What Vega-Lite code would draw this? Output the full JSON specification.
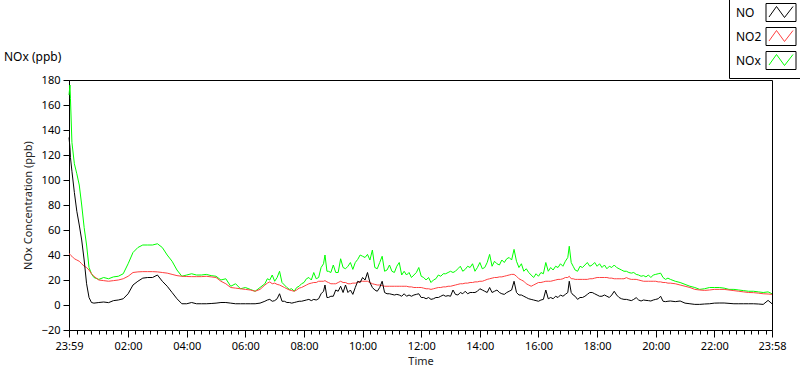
{
  "$schema": "https://vega.github.io/schema/vega-lite/v6.json",
  "autosize": {"type": "none"},
  "width": 703,
  "height": 250,
  "padding": {"left": 69, "top": 80, "right": 28, "bottom": 39},
  "background": "#ffffff",
  "title": {"text": "NOx (ppb)", "anchor": "start", "frame": "group", "dx": -65, "offset": -68, "font": "Noto Sans", "fontSize": 12, "fontWeight": "normal", "color": "#000000"},
  "data": {"values": [
    {"min": -1, "NO": 134, "NO2": 41, "NOx": 168},
    {"min": 1, "NO": 126, "NO2": 40.5, "NOx": 176},
    {"min": 2, "NO": 118, "NO2": 40, "NOx": 165},
    {"min": 5, "NO": 107, "NO2": 39, "NOx": 130},
    {"min": 10, "NO": 90, "NO2": 37, "NOx": 113},
    {"min": 15, "NO": 75, "NO2": 36, "NOx": 105},
    {"min": 20, "NO": 64, "NO2": 35, "NOx": 96},
    {"min": 25, "NO": 52, "NO2": 33, "NOx": 80},
    {"min": 30, "NO": 36, "NO2": 31, "NOx": 62},
    {"min": 35, "NO": 17, "NO2": 30, "NOx": 48},
    {"min": 40, "NO": 6, "NO2": 28, "NOx": 30},
    {"min": 45, "NO": 2, "NO2": 25, "NOx": 25},
    {"min": 50, "NO": 1.5, "NO2": 23, "NOx": 22},
    {"min": 60, "NO": 2, "NO2": 20, "NOx": 20.5},
    {"min": 70, "NO": 2.4, "NO2": 19.5, "NOx": 22},
    {"min": 80, "NO": 1.9, "NO2": 19, "NOx": 21},
    {"min": 90, "NO": 3.5, "NO2": 19.5, "NOx": 22.5},
    {"min": 100, "NO": 4, "NO2": 20, "NOx": 23},
    {"min": 110, "NO": 5, "NO2": 21, "NOx": 25},
    {"min": 120, "NO": 9, "NO2": 23, "NOx": 33},
    {"min": 130, "NO": 16, "NO2": 26, "NOx": 42},
    {"min": 140, "NO": 19, "NO2": 26.5, "NOx": 46},
    {"min": 150, "NO": 21.5, "NO2": 26.7, "NOx": 48},
    {"min": 160, "NO": 22, "NO2": 26.7, "NOx": 48},
    {"min": 170, "NO": 22, "NO2": 26.7, "NOx": 48},
    {"min": 180, "NO": 24, "NO2": 26.5, "NOx": 49},
    {"min": 190, "NO": 19, "NO2": 26, "NOx": 46},
    {"min": 200, "NO": 15, "NO2": 25.5, "NOx": 40},
    {"min": 210, "NO": 10, "NO2": 24.5, "NOx": 35},
    {"min": 220, "NO": 5, "NO2": 23.5, "NOx": 28},
    {"min": 230, "NO": 1, "NO2": 23, "NOx": 23},
    {"min": 240, "NO": 1, "NO2": 22.8, "NOx": 24},
    {"min": 250, "NO": 2, "NO2": 22.7, "NOx": 25},
    {"min": 260, "NO": 1, "NO2": 22.7, "NOx": 24},
    {"min": 270, "NO": 1, "NO2": 22.7, "NOx": 24},
    {"min": 280, "NO": 1, "NO2": 23, "NOx": 24.5},
    {"min": 290, "NO": 1.2, "NO2": 22.5, "NOx": 23.5},
    {"min": 300, "NO": 1.5, "NO2": 22, "NOx": 23},
    {"min": 310, "NO": 2, "NO2": 19, "NOx": 20},
    {"min": 320, "NO": 2, "NO2": 17, "NOx": 21},
    {"min": 330, "NO": 1.5, "NO2": 14, "NOx": 15},
    {"min": 340, "NO": 1, "NO2": 13.5, "NOx": 17},
    {"min": 350, "NO": 1, "NO2": 13, "NOx": 13},
    {"min": 360, "NO": 1, "NO2": 12.5, "NOx": 14},
    {"min": 370, "NO": 1, "NO2": 12, "NOx": 12.5},
    {"min": 380, "NO": 1, "NO2": 11, "NOx": 11},
    {"min": 390, "NO": 1.5, "NO2": 12.5, "NOx": 14},
    {"min": 400, "NO": 3, "NO2": 16, "NOx": 17},
    {"min": 405, "NO": 4, "NO2": 17.5, "NOx": 21},
    {"min": 410, "NO": 4.5, "NO2": 18.5, "NOx": 20},
    {"min": 415, "NO": 3, "NO2": 17, "NOx": 24},
    {"min": 420, "NO": 3.5, "NO2": 17.5, "NOx": 19},
    {"min": 425, "NO": 5, "NO2": 16.5, "NOx": 22},
    {"min": 430, "NO": 9, "NO2": 16, "NOx": 27},
    {"min": 435, "NO": 3, "NO2": 15, "NOx": 18},
    {"min": 440, "NO": 3, "NO2": 14, "NOx": 16},
    {"min": 445, "NO": 2, "NO2": 13, "NOx": 14},
    {"min": 450, "NO": 2, "NO2": 12, "NOx": 12.5},
    {"min": 455, "NO": 1.5, "NO2": 11.5, "NOx": 13},
    {"min": 460, "NO": 2, "NO2": 11, "NOx": 11},
    {"min": 465, "NO": 2.5, "NO2": 12, "NOx": 14},
    {"min": 470, "NO": 3, "NO2": 13.5, "NOx": 15},
    {"min": 475, "NO": 3, "NO2": 14, "NOx": 17},
    {"min": 480, "NO": 3.5, "NO2": 15, "NOx": 18},
    {"min": 485, "NO": 4, "NO2": 16, "NOx": 21},
    {"min": 490, "NO": 4.5, "NO2": 17, "NOx": 22},
    {"min": 495, "NO": 3.5, "NO2": 17.5, "NOx": 20},
    {"min": 500, "NO": 4.5, "NO2": 18, "NOx": 26},
    {"min": 505, "NO": 4, "NO2": 18, "NOx": 21},
    {"min": 510, "NO": 5, "NO2": 19, "NOx": 22},
    {"min": 515, "NO": 9, "NO2": 19, "NOx": 30},
    {"min": 520, "NO": 11, "NO2": 19, "NOx": 33},
    {"min": 523, "NO": 16, "NO2": 19.5, "NOx": 40},
    {"min": 527, "NO": 6, "NO2": 18.5, "NOx": 27},
    {"min": 530, "NO": 6, "NO2": 18, "NOx": 27},
    {"min": 535, "NO": 7, "NO2": 17, "NOx": 26},
    {"min": 540, "NO": 7, "NO2": 17, "NOx": 32},
    {"min": 545, "NO": 12, "NO2": 17, "NOx": 26},
    {"min": 550, "NO": 11, "NO2": 18, "NOx": 26},
    {"min": 555, "NO": 15, "NO2": 19, "NOx": 37},
    {"min": 560, "NO": 10, "NO2": 18, "NOx": 30},
    {"min": 565, "NO": 16, "NO2": 18, "NOx": 29},
    {"min": 570, "NO": 10, "NO2": 17, "NOx": 31},
    {"min": 575, "NO": 12, "NO2": 17, "NOx": 34},
    {"min": 580, "NO": 8.5, "NO2": 17.5, "NOx": 28.5},
    {"min": 585, "NO": 14, "NO2": 17.5, "NOx": 34},
    {"min": 590, "NO": 19, "NO2": 18, "NOx": 36.5},
    {"min": 595, "NO": 18, "NO2": 19, "NOx": 40},
    {"min": 600, "NO": 22, "NO2": 19, "NOx": 39},
    {"min": 605, "NO": 20, "NO2": 19, "NOx": 38},
    {"min": 610, "NO": 26, "NO2": 19, "NOx": 40.5},
    {"min": 615, "NO": 18, "NO2": 18, "NOx": 36},
    {"min": 620, "NO": 14, "NO2": 17, "NOx": 44},
    {"min": 625, "NO": 12, "NO2": 16.5, "NOx": 30},
    {"min": 630, "NO": 11, "NO2": 16, "NOx": 29},
    {"min": 635, "NO": 14, "NO2": 16, "NOx": 34},
    {"min": 640, "NO": 19, "NO2": 15.5, "NOx": 39},
    {"min": 645, "NO": 10, "NO2": 15, "NOx": 27},
    {"min": 650, "NO": 9, "NO2": 15, "NOx": 28},
    {"min": 655, "NO": 9, "NO2": 15, "NOx": 32},
    {"min": 660, "NO": 8.5, "NO2": 15, "NOx": 27},
    {"min": 665, "NO": 8, "NO2": 15, "NOx": 26},
    {"min": 670, "NO": 8.5, "NO2": 15, "NOx": 31},
    {"min": 675, "NO": 8, "NO2": 15, "NOx": 34},
    {"min": 680, "NO": 7, "NO2": 15, "NOx": 24},
    {"min": 685, "NO": 9, "NO2": 15, "NOx": 27},
    {"min": 690, "NO": 7, "NO2": 15, "NOx": 24},
    {"min": 695, "NO": 8, "NO2": 14.5, "NOx": 26},
    {"min": 700, "NO": 7, "NO2": 14.5, "NOx": 22},
    {"min": 705, "NO": 8, "NO2": 14, "NOx": 24},
    {"min": 710, "NO": 8.5, "NO2": 14, "NOx": 26},
    {"min": 715, "NO": 9, "NO2": 14, "NOx": 30},
    {"min": 720, "NO": 6, "NO2": 14, "NOx": 23},
    {"min": 725, "NO": 6, "NO2": 13.5, "NOx": 22},
    {"min": 730, "NO": 5, "NO2": 13, "NOx": 20},
    {"min": 735, "NO": 6, "NO2": 13, "NOx": 22},
    {"min": 740, "NO": 4.5, "NO2": 12.5, "NOx": 18},
    {"min": 745, "NO": 5, "NO2": 13, "NOx": 20},
    {"min": 750, "NO": 6, "NO2": 13.5, "NOx": 21},
    {"min": 755, "NO": 6, "NO2": 14, "NOx": 24},
    {"min": 760, "NO": 7, "NO2": 14, "NOx": 23},
    {"min": 765, "NO": 8, "NO2": 14.5, "NOx": 25},
    {"min": 770, "NO": 7, "NO2": 14.5, "NOx": 25},
    {"min": 775, "NO": 7.5, "NO2": 15, "NOx": 26},
    {"min": 780, "NO": 7, "NO2": 15, "NOx": 27},
    {"min": 785, "NO": 12, "NO2": 15.5, "NOx": 26},
    {"min": 790, "NO": 8.5, "NO2": 16, "NOx": 27},
    {"min": 795, "NO": 8, "NO2": 16.5, "NOx": 29},
    {"min": 800, "NO": 10, "NO2": 17, "NOx": 31},
    {"min": 805, "NO": 9, "NO2": 17, "NOx": 27},
    {"min": 810, "NO": 11, "NO2": 17.5, "NOx": 28.5},
    {"min": 815, "NO": 9, "NO2": 17.5, "NOx": 31},
    {"min": 820, "NO": 10, "NO2": 18, "NOx": 30},
    {"min": 825, "NO": 10, "NO2": 18, "NOx": 33},
    {"min": 830, "NO": 10, "NO2": 18.5, "NOx": 27},
    {"min": 835, "NO": 11, "NO2": 18.5, "NOx": 30},
    {"min": 840, "NO": 13, "NO2": 19, "NOx": 34},
    {"min": 845, "NO": 12, "NO2": 19, "NOx": 29},
    {"min": 850, "NO": 11, "NO2": 19.7, "NOx": 30},
    {"min": 855, "NO": 10, "NO2": 20.5, "NOx": 34},
    {"min": 860, "NO": 14, "NO2": 21, "NOx": 40.5},
    {"min": 865, "NO": 10, "NO2": 21.5, "NOx": 31},
    {"min": 870, "NO": 11, "NO2": 22, "NOx": 35},
    {"min": 875, "NO": 12, "NO2": 22, "NOx": 33},
    {"min": 880, "NO": 10, "NO2": 22.5, "NOx": 32},
    {"min": 885, "NO": 9, "NO2": 22.5, "NOx": 36},
    {"min": 890, "NO": 8.5, "NO2": 23, "NOx": 34},
    {"min": 895, "NO": 10, "NO2": 23.5, "NOx": 37},
    {"min": 900, "NO": 11, "NO2": 24, "NOx": 38},
    {"min": 905, "NO": 12, "NO2": 24.5, "NOx": 36},
    {"min": 910, "NO": 19, "NO2": 24.5, "NOx": 44.5},
    {"min": 915, "NO": 10, "NO2": 23, "NOx": 35},
    {"min": 920, "NO": 8, "NO2": 21, "NOx": 30},
    {"min": 925, "NO": 8, "NO2": 20, "NOx": 33},
    {"min": 930, "NO": 7, "NO2": 19, "NOx": 27},
    {"min": 935, "NO": 6, "NO2": 17, "NOx": 29},
    {"min": 940, "NO": 5, "NO2": 16, "NOx": 26},
    {"min": 945, "NO": 4.5, "NO2": 15, "NOx": 24},
    {"min": 950, "NO": 4, "NO2": 16, "NOx": 22},
    {"min": 955, "NO": 3.5, "NO2": 17, "NOx": 25},
    {"min": 960, "NO": 3, "NO2": 18, "NOx": 23},
    {"min": 965, "NO": 4, "NO2": 18, "NOx": 26},
    {"min": 970, "NO": 4.5, "NO2": 18.5, "NOx": 25},
    {"min": 975, "NO": 12, "NO2": 19, "NOx": 34},
    {"min": 980, "NO": 5, "NO2": 19, "NOx": 27},
    {"min": 985, "NO": 6, "NO2": 19, "NOx": 30},
    {"min": 990, "NO": 5, "NO2": 19.5, "NOx": 28},
    {"min": 995, "NO": 7, "NO2": 20, "NOx": 31},
    {"min": 1000, "NO": 6, "NO2": 20.5, "NOx": 30},
    {"min": 1005, "NO": 8, "NO2": 20.5, "NOx": 33},
    {"min": 1010, "NO": 7, "NO2": 21, "NOx": 31},
    {"min": 1015, "NO": 8.5, "NO2": 22, "NOx": 35},
    {"min": 1020, "NO": 10, "NO2": 22, "NOx": 38},
    {"min": 1023, "NO": 19, "NO2": 23, "NOx": 47},
    {"min": 1027, "NO": 10, "NO2": 21, "NOx": 34},
    {"min": 1031, "NO": 8, "NO2": 21, "NOx": 31},
    {"min": 1035, "NO": 7, "NO2": 20.5, "NOx": 28},
    {"min": 1040, "NO": 4.5, "NO2": 20.5, "NOx": 27},
    {"min": 1045, "NO": 6, "NO2": 20.5, "NOx": 31},
    {"min": 1050, "NO": 6, "NO2": 20.5, "NOx": 30},
    {"min": 1055, "NO": 7, "NO2": 20.5, "NOx": 32},
    {"min": 1060, "NO": 8.5, "NO2": 20.5, "NOx": 34},
    {"min": 1065, "NO": 10, "NO2": 21, "NOx": 31},
    {"min": 1070, "NO": 10, "NO2": 21, "NOx": 32},
    {"min": 1075, "NO": 9, "NO2": 21.5, "NOx": 34},
    {"min": 1080, "NO": 8, "NO2": 22, "NOx": 31},
    {"min": 1085, "NO": 7, "NO2": 22, "NOx": 33},
    {"min": 1090, "NO": 7, "NO2": 22, "NOx": 30},
    {"min": 1095, "NO": 8, "NO2": 22, "NOx": 32},
    {"min": 1100, "NO": 7, "NO2": 22, "NOx": 29},
    {"min": 1105, "NO": 6, "NO2": 21.5, "NOx": 31},
    {"min": 1110, "NO": 8, "NO2": 21.5, "NOx": 30},
    {"min": 1115, "NO": 11, "NO2": 21, "NOx": 32},
    {"min": 1120, "NO": 8, "NO2": 21, "NOx": 30},
    {"min": 1125, "NO": 6, "NO2": 21, "NOx": 29},
    {"min": 1130, "NO": 5, "NO2": 21, "NOx": 28},
    {"min": 1135, "NO": 4.5, "NO2": 21, "NOx": 27},
    {"min": 1140, "NO": 4.5, "NO2": 21.9, "NOx": 27},
    {"min": 1145, "NO": 4, "NO2": 21, "NOx": 26},
    {"min": 1150, "NO": 3.5, "NO2": 20.5, "NOx": 25.5},
    {"min": 1155, "NO": 4.5, "NO2": 20.5, "NOx": 26},
    {"min": 1160, "NO": 5.9, "NO2": 20.5, "NOx": 24.5},
    {"min": 1165, "NO": 4, "NO2": 20, "NOx": 24},
    {"min": 1170, "NO": 3.2, "NO2": 19.5, "NOx": 23},
    {"min": 1175, "NO": 4, "NO2": 19, "NOx": 23.5},
    {"min": 1180, "NO": 3.7, "NO2": 19, "NOx": 22.5},
    {"min": 1185, "NO": 3.5, "NO2": 19, "NOx": 24},
    {"min": 1190, "NO": 3.2, "NO2": 19, "NOx": 22},
    {"min": 1195, "NO": 4, "NO2": 19, "NOx": 24},
    {"min": 1200, "NO": 4.5, "NO2": 19, "NOx": 24.5},
    {"min": 1205, "NO": 5, "NO2": 18.5, "NOx": 25},
    {"min": 1210, "NO": 7, "NO2": 18.5, "NOx": 25.5},
    {"min": 1215, "NO": 3, "NO2": 18, "NOx": 22},
    {"min": 1220, "NO": 2.7, "NO2": 18, "NOx": 20.5},
    {"min": 1225, "NO": 3, "NO2": 17.5, "NOx": 21.5},
    {"min": 1230, "NO": 3.2, "NO2": 17.5, "NOx": 20.5},
    {"min": 1240, "NO": 2.7, "NO2": 17, "NOx": 19},
    {"min": 1250, "NO": 3.2, "NO2": 16, "NOx": 18},
    {"min": 1260, "NO": 1.5, "NO2": 15, "NOx": 16.5},
    {"min": 1270, "NO": 1, "NO2": 14, "NOx": 15},
    {"min": 1280, "NO": 0.5, "NO2": 12.5, "NOx": 14},
    {"min": 1290, "NO": 0.5, "NO2": 12, "NOx": 12.5},
    {"min": 1300, "NO": 0.8, "NO2": 11.7, "NOx": 13},
    {"min": 1310, "NO": 1, "NO2": 12, "NOx": 14},
    {"min": 1320, "NO": 1.5, "NO2": 12.5, "NOx": 14},
    {"min": 1330, "NO": 1.6, "NO2": 12.5, "NOx": 14},
    {"min": 1340, "NO": 1.6, "NO2": 12.5, "NOx": 13.5},
    {"min": 1350, "NO": 1.3, "NO2": 12, "NOx": 12.5},
    {"min": 1360, "NO": 1, "NO2": 11.5, "NOx": 12.5},
    {"min": 1370, "NO": 1, "NO2": 11, "NOx": 12},
    {"min": 1380, "NO": 1, "NO2": 10.5, "NOx": 11.5},
    {"min": 1390, "NO": 1, "NO2": 10, "NOx": 11},
    {"min": 1400, "NO": 1, "NO2": 9.9, "NOx": 11},
    {"min": 1410, "NO": 0.8, "NO2": 9.5, "NOx": 10.5},
    {"min": 1420, "NO": 0.5, "NO2": 9, "NOx": 10},
    {"min": 1430, "NO": 3.7, "NO2": 8.8, "NOx": 10.5},
    {"min": 1438, "NO": 1, "NO2": 8.5, "NOx": 9}
  ]},
  "encoding": {
    "x": {
      "field": "min", "type": "quantitative",
      "scale": {"domain": [-1, 1438], "nice": false, "zero": false},
      "axis": {
        "title": "Time",
        "values": [-1,15,30,45,60,75,90,105,120,135,150,165,180,195,210,225,240,255,270,285,300,315,330,345,360,375,390,405,420,435,450,465,480,495,510,525,540,555,570,585,600,615,630,645,660,675,690,705,720,735,750,765,780,795,810,825,840,855,870,885,900,915,930,945,960,975,990,1005,1020,1035,1050,1065,1080,1095,1110,1125,1140,1155,1170,1185,1200,1215,1230,1245,1260,1275,1290,1305,1320,1335,1350,1365,1380,1395,1410,1425,1438],
        "labelExpr": "datum.value == -1 ? '23:59' : datum.value == 1438 ? '23:58' : (datum.value % 120 == 0 ? ((datum.value < 600 ? '0' : '') + (datum.value / 60) + ':00') : '')",
        "tickSize": {"condition": {"test": "datum.value % 120 == 0 || datum.value == -1 || datum.value == 1438", "value": 7}, "value": 4},
        "labelOverlap": false,
        "labelFlush": false,
        "labelBound": false,
        "labelPadding": 3,
        "titlePadding": 4,
        "grid": false
      }
    },
    "y": {
      "type": "quantitative",
      "scale": {"domain": [-20, 180], "nice": false, "zero": false},
      "axis": {
        "title": "NOx Concentration (ppb)",
        "values": [-20, 0, 20, 40, 60, 80, 100, 120, 140, 160, 180],
        "tickSize": 6,
        "labelPadding": 3,
        "titlePadding": 8,
        "grid": false
      }
    }
  },
  "layer": [
    {
      "mark": {"type": "line", "strokeWidth": 1, "interpolate": "linear"},
      "encoding": {
        "y": {"field": "NOx", "type": "quantitative"},
        "color": {"datum": "NOx", "type": "nominal",
          "scale": {"domain": ["NO", "NO2", "NOx"], "range": ["#000000", "#ff4040", "#00ff00"]},
          "legend": {
            "orient": "none", "legendX": 660, "legendY": -84, "title": null,
            "labelFont": "Noto Sans", "labelFontSize": 12, "labelColor": "#000000",
            "symbolType": "M-1.5,-0.9M1.5,0.9M-1.2,0.45L-0.45,-0.6L0.35,0.5L1.2,-0.6",
            "symbolSize": 400, "symbolStrokeWidth": 1, "symbolFillColor": "transparent",
            "symbolOffset": 35.5, "labelOffset": -55.5,
            "padding": 6, "rowPadding": 1, "strokeColor": "#000000"
          }}
      }
    },
    {
      "mark": {"type": "line", "strokeWidth": 1, "interpolate": "linear"},
      "encoding": {
        "y": {"field": "NO2", "type": "quantitative"},
        "color": {"datum": "NO2", "type": "nominal"}
      }
    },
    {
      "mark": {"type": "line", "strokeWidth": 1, "interpolate": "linear"},
      "encoding": {
        "y": {"field": "NO", "type": "quantitative"},
        "color": {"datum": "NO", "type": "nominal"},
        "opacity": {"datum": "a", "type": "ordinal",
          "scale": {"domain": ["a", "b", "c"], "range": [1, 1, 1]},
          "legend": {
            "orient": "none", "legendX": 660, "legendY": -84, "title": null,
            "labelFont": "Noto Sans", "labelFontSize": 12, "labelColor": "transparent",
            "symbolType": "M-1.5,-0.9H1.5V0.9H-1.5Z",
            "symbolSize": 400, "symbolStrokeWidth": 1, "symbolFillColor": "transparent", "symbolStrokeColor": "#000000",
            "symbolOffset": 35.5, "labelOffset": -55.5,
            "padding": 6, "rowPadding": 1
          }}
      }
    }
  ],
  "config": {
    "font": "Noto Sans",
    "view": {"stroke": "#000000", "strokeWidth": 1},
    "axis": {
      "labelFont": "Noto Sans", "labelFontSize": 11, "labelColor": "#000000",
      "titleFont": "Noto Sans", "titleFontSize": 11, "titleFontWeight": "normal", "titleColor": "#222222",
      "domainColor": "#000000", "tickColor": "#000000", "domainWidth": 1, "tickWidth": 1
    }
  }
}
